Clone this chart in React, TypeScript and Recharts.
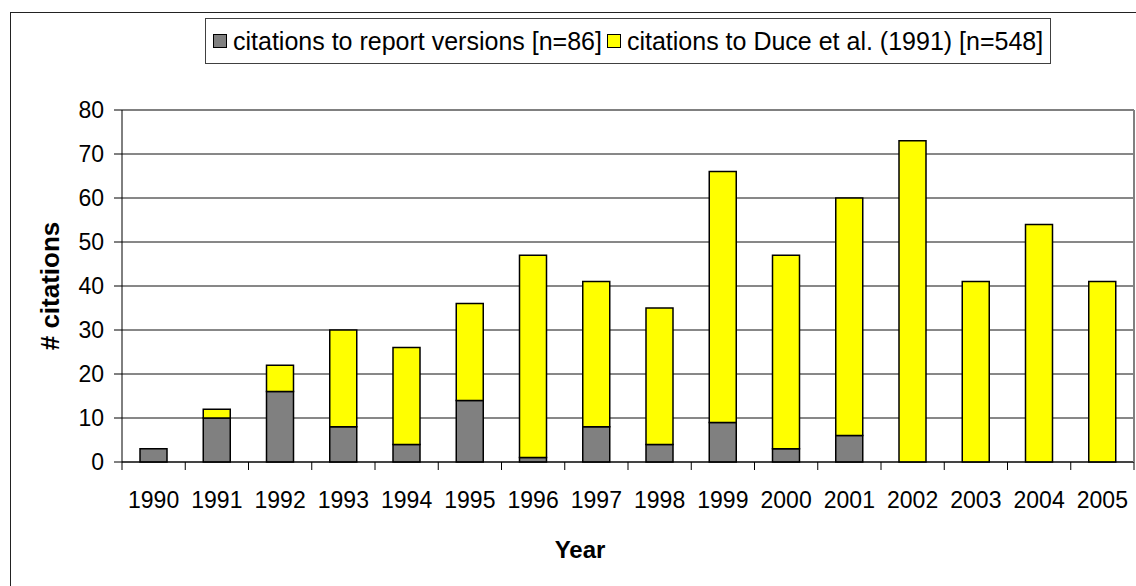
import { BarChart, Bar, XAxis, YAxis, CartesianGrid, Legend, ReferenceLine, Label } from 'recharts'

const years = ['1990', '1991', '1992', '1993', '1994', '1995', '1996', '1997', '1998', '1999', '2000', '2001', '2002', '2003', '2004', '2005']
const reportVersions = [3, 10, 16, 8, 4, 14, 1, 8, 4, 9, 3, 6, 0, 0, 0, 0]
const duceCitations = [0, 2, 6, 22, 22, 22, 46, 33, 31, 57, 44, 54, 73, 41, 54, 41]
const yTicks = [0, 10, 20, 30, 40, 50, 60, 70, 80]

const seriesNames = ['citations to report versions [n=86]', 'citations to Duce et al. (1991) [n=548]']
const seriesColors = ['#808080', '#ffff00']

const FONT = '"Liberation Sans", Arial, sans-serif'
const TICK_SIZE = 8
const TICK_MARGIN = 22
const TICK_FONT = 23

const data = years.map((year, i) => ({ year, report: reportVersions[i], duce: duceCitations[i] }))

function YearTick(props: any) {
    const { x, y, payload, index, visibleTicksCount } = props
    const half = payload?.offset ?? 31.6
    const axisY = y - TICK_MARGIN - TICK_SIZE
    const last = index === (visibleTicksCount ?? years.length) - 1
    return (
        <g>
            <line x1={x - half} x2={x - half} y1={axisY} y2={axisY + TICK_SIZE} stroke="#000" />
            {last && <line x1={x + half} x2={x + half} y1={axisY} y2={axisY + TICK_SIZE} stroke="#000" />}
            <text x={x} y={y} dy="0.71em" textAnchor="middle" fontSize={TICK_FONT} fill="#000" fontFamily={FONT}>
                {payload.value}
            </text>
        </g>
    )
}

function LegendBox() {
    return (
        <div style={{ display: 'flex', alignItems: 'center', height: '100%', paddingLeft: 7, fontFamily: FONT, fontSize: 25, color: '#000', whiteSpace: 'nowrap' }}>
            {seriesNames.map((name, i) => (
                <span key={name} style={{ display: 'flex', alignItems: 'center', marginRight: 5 }}>
                    <span style={{ display: 'inline-block', width: 14, height: 14, boxSizing: 'border-box', border: '1px solid #000', background: seriesColors[i], marginRight: 6 }} />
                    {name}
                </span>
            ))}
        </div>
    )
}

export default function App() {
    return (
        <div style={{ position: 'absolute', left: 0, top: 0, width: 1136, height: 586, overflow: 'hidden', background: '#fff', fontFamily: FONT }}>
            <div style={{ position: 'absolute', left: 10, top: 12, width: 1300, height: 800, border: '1px solid #222' }} />
            <div style={{ position: 'absolute', left: 0, top: 0 }}>
                <BarChart width={1136} height={586} data={data} margin={{ top: 110, right: 0, bottom: 24, left: 0 }}>
                    <CartesianGrid vertical={false} stroke="#111" />
                    <XAxis
                        dataKey="year"
                        height={100}
                        axisLine={{ stroke: '#000' }}
                        tickLine={{ stroke: 'transparent' }}
                        tickSize={TICK_SIZE}
                        tickMargin={TICK_MARGIN}
                        tick={<YearTick />}
                        interval={0}
                    >
                        <Label value="Year" position="insideBottom" offset={4} dx={-48} style={{ fontWeight: 'bold', fontSize: 24, fill: '#000', fontFamily: FONT }} />
                    </XAxis>
                    <YAxis
                        width={122}
                        domain={[0, 80]}
                        ticks={yTicks}
                        interval={0}
                        axisLine={{ stroke: '#000' }}
                        tickLine={{ stroke: '#000' }}
                        tickSize={TICK_SIZE}
                        tickMargin={10}
                        tick={{ fill: '#000', fontSize: TICK_FONT, fontFamily: FONT }}
                    >
                        <Label value="# citations" angle={-90} position="insideLeft" offset={50} style={{ textAnchor: 'middle', fontWeight: 'bold', fontSize: 26, fill: '#000', fontFamily: FONT }} />
                    </YAxis>
                    <YAxis yAxisId="frame" orientation="right" width={2} tick={false} tickLine={false} axisLine={{ stroke: '#808080', strokeWidth: 2 }} />
                    <ReferenceLine y={80} stroke="#808080" strokeWidth={2} />
                    <Legend
                        verticalAlign="middle"
                        align="center"
                        content={<LegendBox />}
                        wrapperStyle={{ left: 205, top: 18, width: 846, height: 46, boxSizing: 'border-box', border: '1px solid #404040', background: '#fff' }}
                    />
                    <Bar dataKey="report" name={seriesNames[0]} stackId="a" fill={seriesColors[0]} stroke="#000" strokeWidth={1.5} barSize={27} isAnimationActive={false} />
                    <Bar dataKey="duce" name={seriesNames[1]} stackId="a" fill={seriesColors[1]} stroke="#000" strokeWidth={1.5} barSize={27} isAnimationActive={false} />
                </BarChart>
            </div>
        </div>
    )
}
